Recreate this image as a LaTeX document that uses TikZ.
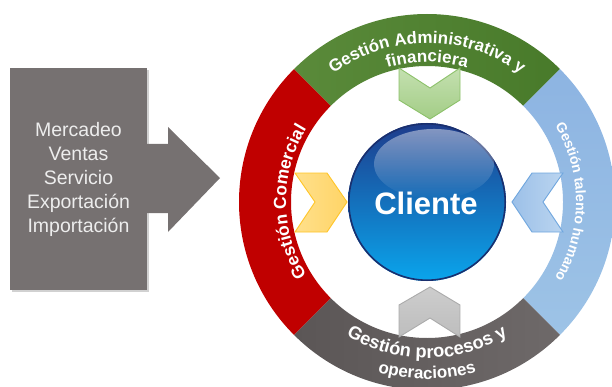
\documentclass[tikz,border=0pt]{standalone}
\usepackage{fontspec}
\setmainfont{Liberation Sans}
\usetikzlibrary{calc,decorations.text,fadings}
\definecolor{boxgray}{HTML}{767171}
\definecolor{redA}{HTML}{C00000}
\definecolor{redB}{HTML}{8A0000}
\definecolor{grnA}{HTML}{5A8A3A}
\definecolor{grnB}{HTML}{487A2A}
\definecolor{bluA}{HTML}{8DB4E2}
\definecolor{bluB}{HTML}{7392B5}
\definecolor{bluC}{HTML}{9DC3E6}
\definecolor{gryA}{HTML}{5B5656}
\definecolor{gryB}{HTML}{6E6969}
\definecolor{ballA}{HTML}{1E3C8C}
\definecolor{ballB}{HTML}{0AA5EC}
\definecolor{ballE}{HTML}{1A2F6E}
\definecolor{cgA}{HTML}{C4E0B0}
\definecolor{cgB}{HTML}{A3CD86}
\definecolor{cgS}{HTML}{8CC16A}
\definecolor{cyA}{HTML}{FFE08C}
\definecolor{cyB}{HTML}{FFD466}
\definecolor{cyS}{HTML}{FFC526}
\definecolor{cbA}{HTML}{BBD5F0}
\definecolor{cbB}{HTML}{9CC0E8}
\definecolor{cbS}{HTML}{6FA6DE}
\definecolor{ckA}{HTML}{CDCDCD}
\definecolor{ckB}{HTML}{BDBDBD}
\definecolor{ckS}{HTML}{ABABAB}
\newcommand\ringseg[3]{\path[#3] ($(c)+(#1:188)$) arc[start angle=#1,end angle=#2,radius=188] -- ($(c)+(#2:136)$) arc[start angle=#2,end angle=#1,radius=136] -- cycle;}
\newcommand\ringtext[5]{%
 \path[decorate,decoration={text along path,text align=center,text={|\fontsize{#4}{#4}\selectfont\bfseries\color{white}|#5}}] (c) ++(#2:#1) arc[start angle=#2,end angle=#3,radius=#1];
}
\tikzset{
  chev/.style={line width=0.9pt, line join=miter},
}
\begin{document}
\begin{tikzpicture}[x=1pt,y=1pt]
\useasboundingbox (0,0) rectangle (612,386);
\clip (0,0) rectangle (612,386);
\coordinate (c) at (427,184);

% left box and arrow
\fill[black, opacity=0.18] (12,94) rectangle (149,316);
\node[fill=boxgray, minimum width=137pt, minimum height=222pt, inner sep=0pt, align=center,
      text=white!93!black, font=\fontsize{19.5}{24}\selectfont] (box) at (78.5,207)
  {Mercadeo\\Ventas\\Servicio\\Exportación\\Importación};
\fill[boxgray] (146,242) -- (168,242) -- (168,259) -- (220,208) -- (168,154) -- (168,173) -- (146,173) -- cycle;

% ring segments
\ringseg{135}{225}{top color=redA, middle color=redB, bottom color=redA}
\ringseg{45}{135}{left color=grnA, right color=grnB}
\ringseg{-45}{45}{top color=bluA, middle color=bluB, bottom color=bluC}
\ringseg{225}{315}{left color=gryA, right color=gryB}

% chevrons
\path[chev, draw=cgS, top color=cgA, bottom color=cgB]
  (399,318) -- (430,298) -- (460,318) -- (460,286) -- (430,267) -- (399,286) -- cycle;
\path[chev, draw=cyS, left color=cyA, right color=cyB]
  (295,213) -- (327,213) -- (347,184) -- (327,154) -- (295,154) -- (315,184) -- cycle;
\path[chev, draw=cbS, left color=cbB, right color=cbA]
  (512,184) -- (532,213) -- (563,213) -- (543,184) -- (563,154) -- (532,154) -- cycle;
\path[chev, draw=ckS, top color=ckA, bottom color=ckB]
  (430,99) -- (460,81) -- (460,49) -- (430,68) -- (399,49) -- (399,81) -- cycle;

% center ball
\shade[top color=ballA, bottom color=ballB] (c) circle[radius=79];
\draw[ballE, line width=1.6pt] (c) circle[radius=78.2];
\fill[white, opacity=0.45, path fading=south] (434,222) ellipse[x radius=60, y radius=35];
\node[font=\fontsize{31}{31}\selectfont\bfseries, text=white] (cliente) at (426,183) {Cliente};

% ring texts
\ringtext{159}{150}{30}{17}{Gestión Administrativa y}
\ringtext{140}{130}{50}{17}{financiera}
\ringtext{141}{235}{125}{17.5}{Gestión Comercial}
\ringtext{149}{55}{-55}{14}{Gestión talento humano}
\ringtext{156}{225}{315}{18.3}{Gestión procesos y}
\ringtext{177}{235}{305}{17}{operaciones}
\end{tikzpicture}
\end{document}
